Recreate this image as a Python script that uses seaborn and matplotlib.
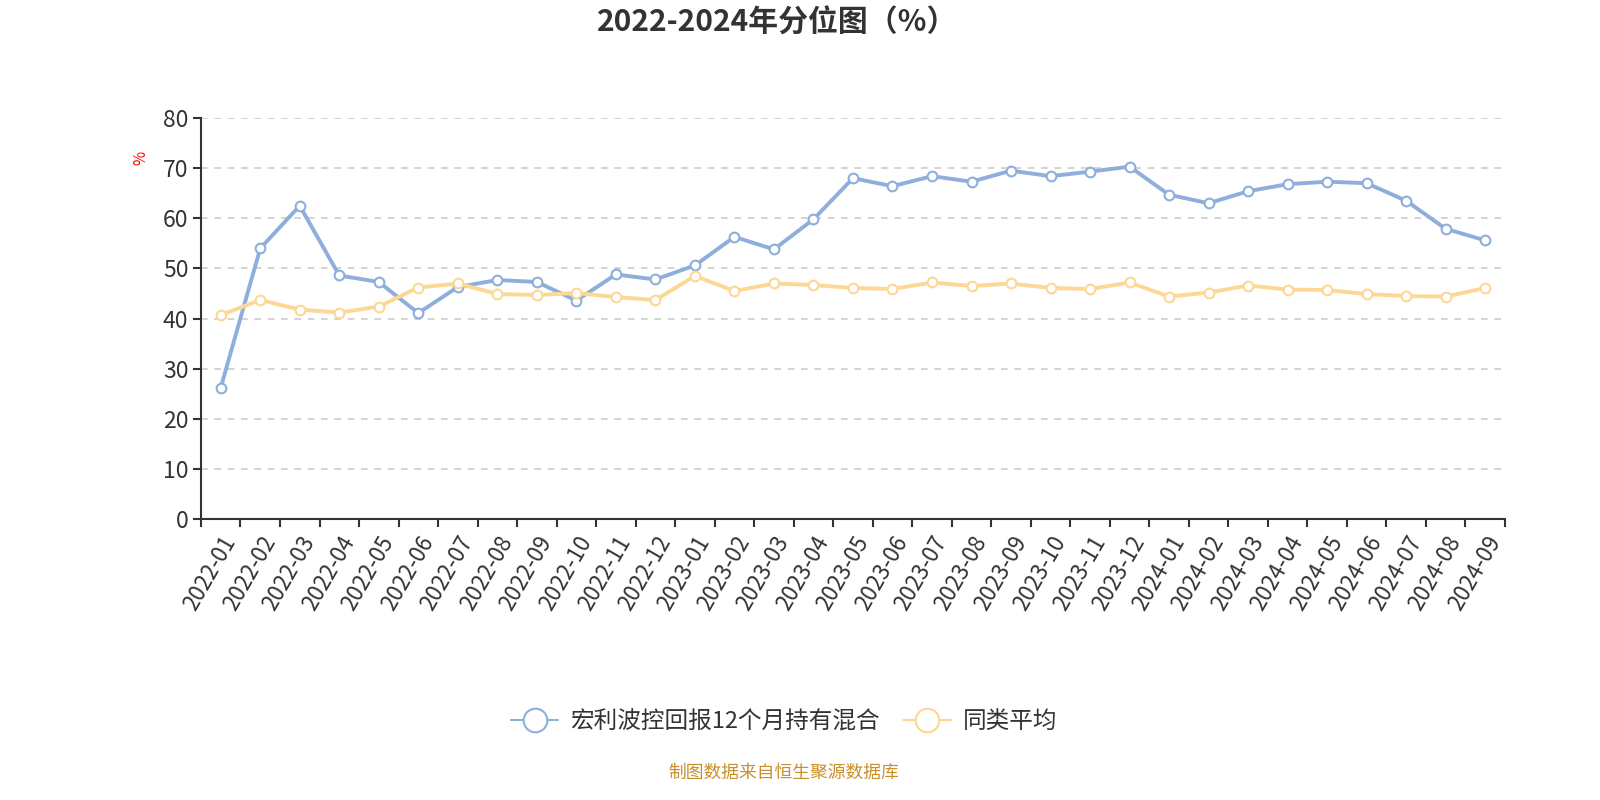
import numpy as np
import pandas as pd
import matplotlib
matplotlib.use("Agg")
import matplotlib.pyplot as plt
import seaborn as sns
from matplotlib.lines import Line2D

months = ["2022-01","2022-02","2022-03","2022-04","2022-05","2022-06","2022-07","2022-08","2022-09","2022-10","2022-11","2022-12",
          "2023-01","2023-02","2023-03","2023-04","2023-05","2023-06","2023-07","2023-08","2023-09","2023-10","2023-11","2023-12",
          "2024-01","2024-02","2024-03","2024-04","2024-05","2024-06","2024-07","2024-08","2024-09"]
fund_values = [26.2, 54.0, 62.5, 48.6, 47.3, 41.1, 46.3, 47.7, 47.3, 43.6, 48.8, 47.8,
               50.6, 56.3, 53.8, 59.8, 68.0, 66.4, 68.4, 67.3, 69.5, 68.4, 69.3, 70.3,
               64.7, 63.0, 65.4, 66.8, 67.3, 67.0, 63.5, 57.9, 55.6]
avg_values = [40.7, 43.7, 41.8, 41.2, 42.4, 46.2, 47.0, 44.9, 44.7, 45.1, 44.3, 43.7,
              48.5, 45.5, 47.0, 46.7, 46.1, 45.9, 47.2, 46.5, 47.0, 46.1, 45.9, 47.2,
              44.4, 45.2, 46.6, 45.8, 45.7, 44.9, 44.5, 44.4, 46.1]
series_names = ["宏利波控回报12个月持有混合", "同类平均"]
colors = ["#8eaedc", "#fdd795"]
y_ticks = [0, 10, 20, 30, 40, 50, 60, 70, 80]

sns.set_theme(style="white")
plt.rcParams['font.family'] = ['Noto Sans CJK SC', 'DejaVu Sans']
plt.rcParams['axes.unicode_minus'] = False

df = pd.DataFrame({
    "month": months * 2,
    "value": fund_values + avg_values,
    "series": [series_names[0]] * len(months) + [series_names[1]] * len(months),
})
df["x"] = list(range(len(months))) * 2

fig = plt.figure(figsize=(16, 8), dpi=100)
ax = fig.add_axes([0.1256, 0.351, 0.815, 0.5015])

sns.lineplot(data=df, x="x", y="value", hue="series", palette=colors, ax=ax,
             linewidth=2.8, marker="o", markersize=7, markerfacecolor="white",
             markeredgewidth=1.5, legend=False, zorder=3)
for line, c in zip(ax.get_lines(), colors):
    line.set_markeredgecolor(c)

ax.set_xlim(-0.5, len(months) - 0.5)
ax.set_ylim(0, 80)
ax.set_yticks(y_ticks)
ax.set_yticklabels([str(v) for v in y_ticks], fontsize=16.5, color="#333333")
ax.set_xticks(range(len(months)))
ax.set_xticklabels(months, rotation=60, ha="right", rotation_mode="anchor",
                   fontsize=16, color="#333333")
ax.set_xticks(np.arange(-0.5, len(months), 1), minor=True)
ax.tick_params(axis="x", which="major", length=0, pad=9)
ax.tick_params(axis="x", which="minor", length=6, width=1.5, color="#333333", direction="out")
ax.tick_params(axis="y", which="major", length=6, width=1.5, color="#333333", direction="out", pad=3)
ax.xaxis.set_ticks_position("bottom")
ax.yaxis.set_ticks_position("left")
ax.set_xlabel("")
ax.set_ylabel("")

for y in y_ticks[1:]:
    ax.axhline(y, color="#cccccc", linestyle=(0, (4, 4)), linewidth=1.2, zorder=1)

for s in ["top", "right"]:
    ax.spines[s].set_visible(False)
for s in ["left", "bottom"]:
    ax.spines[s].set_color("#333333")
    ax.spines[s].set_linewidth(1.5)

fig.text(0.088, 0.802, "%", color="red", fontsize=11, rotation=90, ha="center", va="center")

fig.text(0.486, 0.972, "2022-2024年分位图（%）", fontsize=21.5, fontweight="bold",
         color="#333333", ha="center", va="center")

handles = [Line2D([0], [0], color=c, linewidth=1.5, marker="o", markersize=17,
                  markerfacecolor="white", markeredgecolor=c, markeredgewidth=1.5) for c in colors]
fig.legend(handles, series_names, loc="center", bbox_to_anchor=(0.49, 0.098), ncol=2,
           frameon=False, fontsize=17, handlelength=2.0, columnspacing=1.0, handletextpad=0.5,
           labelcolor="#333333")

fig.text(0.49, 0.034, "制图数据来自恒生聚源数据库", color="#c8902a", fontsize=12.8,
         ha="center", va="center")

fig.savefig("out.png", dpi=100)
